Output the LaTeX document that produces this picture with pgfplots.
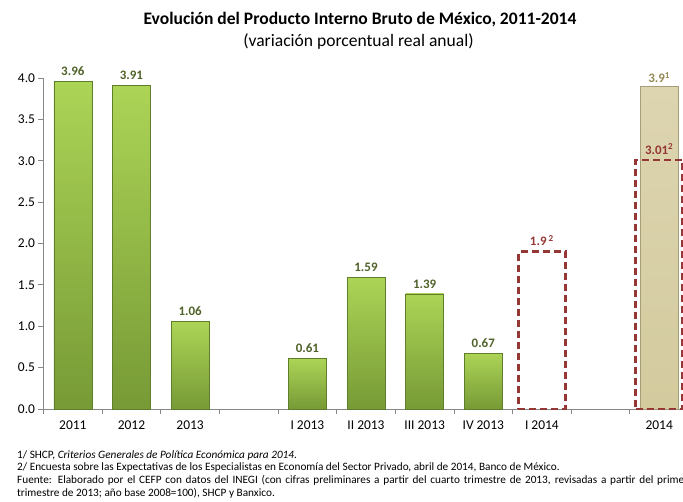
\documentclass[border=0pt]{standalone}
\usepackage{pgfplots}
\pgfplotsset{compat=1.18}
\usepackage{fontspec}
\setmainfont{Carlito}
\definecolor{gtop}{HTML}{ACD456}
\definecolor{gbot}{HTML}{779A36}
\definecolor{gedge}{HTML}{5F7D2B}
\definecolor{glab}{HTML}{4F6228}
\definecolor{tanfill}{HTML}{D3CA9E}
\definecolor{tantop}{HTML}{DDD5B0}
\definecolor{tanedge}{HTML}{A69E78}
\definecolor{tanlab}{HTML}{948A54}
\definecolor{dred}{HTML}{953735}
\definecolor{axgray}{HTML}{878787}
\pgfplotsset{
  gbar/.style={ybar, bar width=38bp, bar shift=0pt, draw=gedge, line width=0.6bp,
    top color=gtop, bottom color=gbot,
    nodes near coords={\pgfmathprintnumber[fixed,precision=2]{\pgfplotspointmeta}},
    nodes near coords style={font=\bfseries\fontsize{13}{15}\selectfont, text=glab, yshift=2bp}},
}
\begin{document}
\begin{tikzpicture}
\begin{axis}[name=ax, scale only axis, width=645bp, height=331bp,
  xmin=-0.5, xmax=10.5, ymin=0, ymax=4,
  axis lines*=left, axis line style={axgray, line width=0.8bp},
  clip=false,
  xtick={-0.5,0.5,...,9.5},
  xticklabels={2011,2012,2013,,I 2013,II 2013,III 2013,IV 2013,I 2014,,2014},
  xticklabel style={xshift=29.32bp, yshift=-3bp},
  ytick={0,0.5,...,4},
  tick style={axgray, line width=0.8bp},
  tick align=outside, major tick length=5bp,
  yticklabel style={/pgf/number format/.cd, fixed, fixed zerofill, precision=1},
  /pgf/number format/assume math mode=true,
  tick label style={font=\fontsize{13.5}{15}\selectfont, text=black},
]
\addplot[gbar] coordinates {(0,3.96)};
\addplot[gbar] coordinates {(1,3.91)};
\addplot[gbar] coordinates {(2,1.06)};
\addplot[gbar] coordinates {(4,0.61)};
\addplot[gbar] coordinates {(5,1.59)};
\addplot[gbar] coordinates {(6,1.39)};
\addplot[gbar] coordinates {(7,0.67)};
\addplot[ybar, bar width=38bp, bar shift=0pt, draw=tanedge, line width=0.6bp,
  top color=tantop, bottom color=tanfill,
  nodes near coords={\pgfmathprintnumber[fixed,precision=2]{\pgfplotspointmeta}\textsuperscript{1}},
  nodes near coords style={font=\bfseries\fontsize{13}{15}\selectfont, text=tanlab}]
  coordinates {(10,3.9)};
\addplot[ybar, bar width=47bp, bar shift=0pt, draw=dred, line width=2.8bp,
  dash pattern=on 7bp off 4bp, fill=none,
  nodes near coords={\pgfmathprintnumber[fixed,precision=2]{\pgfplotspointmeta}\,\textsuperscript{2}},
  nodes near coords style={font=\bfseries\fontsize{13}{15}\selectfont, text=dred, yshift=1bp}]
  coordinates {(8,1.9)};
\addplot[ybar, bar width=47bp, bar shift=0pt, draw=dred, line width=2.8bp,
  dash pattern=on 7bp off 4bp, fill=none,
  nodes near coords={\pgfmathprintnumber[fixed,precision=2]{\pgfplotspointmeta}\textsuperscript{2}},
  nodes near coords style={font=\bfseries\fontsize{13}{15}\selectfont, text=dred, yshift=1bp}]
  coordinates {(10,3.01)};
\coordinate (O) at (rel axis cs:0,0);
\end{axis}
% image top-left
\coordinate (TL) at ([shift={(-43.5bp,409bp)}]O);
\node[font=\bfseries\fontsize{17.6}{20}\selectfont] at ([shift={(360bp,-20bp)}]TL) {Evolución del Producto Interno Bruto de México, 2011-2014};
\node[font=\fontsize{17.6}{20}\selectfont] at ([shift={(358.5bp,-42bp)}]TL) {(variación porcentual real anual)};
\begin{scope}[every node/.style={anchor=west, inner sep=0pt, font=\fontsize{11.3}{13}\selectfont}]
\node at ([shift={(17bp,-455bp)}]TL) {1/ SHCP, \textit{Criterios Generales de Política Económica para 2014}.};
\node at ([shift={(17bp,-467.5bp)}]TL) {2/ Encuesta sobre las Expectativas de los Especialistas en Economía del Sector Privado, abril de 2014, Banco de México.};
\node at ([shift={(17bp,-480.5bp)}]TL) {\makebox[671bp][s]{Fuente: Elaborado por el CEFP con datos del INEGI (con cifras preliminares a partir del cuarto trimestre de 2013, revisadas a partir del primer}};
\node at ([shift={(17bp,-493bp)}]TL) {trimestre de 2013; año base 2008=100), SHCP y Banxico.};
\end{scope}
\pgfresetboundingbox
\path[use as bounding box] ([shift={(0bp,-502bp)}]TL) rectangle ([shift={(683bp,0bp)}]TL);
\end{tikzpicture}
\end{document}
